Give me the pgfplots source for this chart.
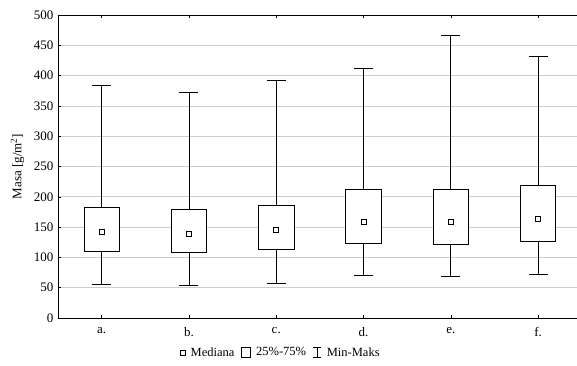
\documentclass[border=0pt]{standalone}
\usepackage{fontspec}
\setmainfont{Liberation Serif}
\usepackage{pgfplots}
\usepackage{pgfplotstable}
\pgfplotsset{compat=1.18}
\pgfplotstableread{
x min q1 med q3 max
0 56.1 110.6 141.9 182.7 384.0
1 54.5 107.8 138.0 179.4 372.4
2 57.8 113.3 145.7 186.5 391.6
3 70.4 122.6 158.4 212.9 411.4
4 68.8 121.6 158.4 211.7 466.5
5 72.1 126.6 163.4 219.0 431.2
}\boxdata
\begin{document}
\begin{tikzpicture}
\begin{axis}[
  scale only axis,
  width=519pt, height=303pt,
  xmin=-0.5, xmax=5.445,
  ymin=0, ymax=500,
  axis x line*=box,
  axis y line*=left,
  axis line style={black, line width=0.8pt},
  xtick={0,1,2,3,4,5},
  xticklabels={a.,b.,c.,d.,e.,f.},
  ytick={0,50,...,500},
  ymajorgrids,
  grid style={gray!40, line width=0.8pt},
  major tick length=3pt,
  tick style={black, line width=0.6pt},
  tick align=inside,
  xtick pos=both,
  ytick pos=left,
  /pgf/number format/assume math mode=true,
  tick label style={font=\fontsize{13}{15}\selectfont},
  yticklabel style={xshift=-1pt},
  xticklabel style={yshift=-6pt},
  ylabel={Masa [g/m\textsuperscript{2}]},
  ylabel style={font=\fontsize{13}{15}\selectfont, yshift=3pt},
  legend columns=3,
  legend style={at={(0.43,-0.114)}, anchor=center, draw=none, fill=none,
    font=\fontsize{12.5}{15}\selectfont,
    /tikz/every odd column/.append style={column sep=3pt},
    /tikz/every even column/.append style={column sep=5pt}},
]
\addlegendimage{only marks, mark=square, mark size=2.5pt, black, mark options={line width=0.7pt}}
\addlegendentry{Mediana}
\addlegendimage{legend image code/.code={\draw[black, line width=0.7pt, fill=white] (6pt,-4.5pt) rectangle (15pt,5.5pt);}}
\addlegendentry{25\%-75\%}
\addlegendimage{legend image code/.code={\draw[black, line width=0.7pt] (10pt,-4.5pt)--(10pt,5.5pt) (6pt,-4.5pt)--(14pt,-4.5pt) (6pt,5.5pt)--(14pt,5.5pt);}}
\addlegendentry{Min-Maks}

% whiskers (min-max)
\addplot[draw=none, mark=none, forget plot,
  error bars/.cd, y dir=both, y explicit,
  error mark=|,
  error bar style={draw=black, solid, line width=0.8pt},
  error mark options={draw=black, solid, line width=0.8pt, mark size=9.5pt}]
  table[x=x, y=med, y error plus expr=\thisrow{max}-\thisrow{med}, y error minus expr=\thisrow{med}-\thisrow{min}] {\boxdata};

% boxes (25%-75%)
\addplot[black, line width=0.8pt, fill=white, forget plot] coordinates {(-0.2025,110.6) (0.2025,110.6) (0.2025,182.7) (-0.2025,182.7)} -- cycle;
\addplot[black, line width=0.8pt, fill=white, forget plot] coordinates {(0.7975,107.8) (1.2025,107.8) (1.2025,179.4) (0.7975,179.4)} -- cycle;
\addplot[black, line width=0.8pt, fill=white, forget plot] coordinates {(1.7975,113.3) (2.2025,113.3) (2.2025,186.5) (1.7975,186.5)} -- cycle;
\addplot[black, line width=0.8pt, fill=white, forget plot] coordinates {(2.7975,122.6) (3.2025,122.6) (3.2025,212.9) (2.7975,212.9)} -- cycle;
\addplot[black, line width=0.8pt, fill=white, forget plot] coordinates {(3.7975,121.6) (4.2025,121.6) (4.2025,211.7) (3.7975,211.7)} -- cycle;
\addplot[black, line width=0.8pt, fill=white, forget plot] coordinates {(4.7975,126.6) (5.2025,126.6) (5.2025,219.0) (4.7975,219.0)} -- cycle;

% medians
\addplot[only marks, mark=square*, mark size=2.5pt, black, mark options={fill=white, line width=0.8pt}, forget plot]
  table[x=x, y=med] {\boxdata};
\end{axis}
\pgfresetboundingbox
\path[use as bounding box] (current axis.south west) ++(-58pt,-47pt) rectangle ++(577pt,365pt);
\end{tikzpicture}
\end{document}
